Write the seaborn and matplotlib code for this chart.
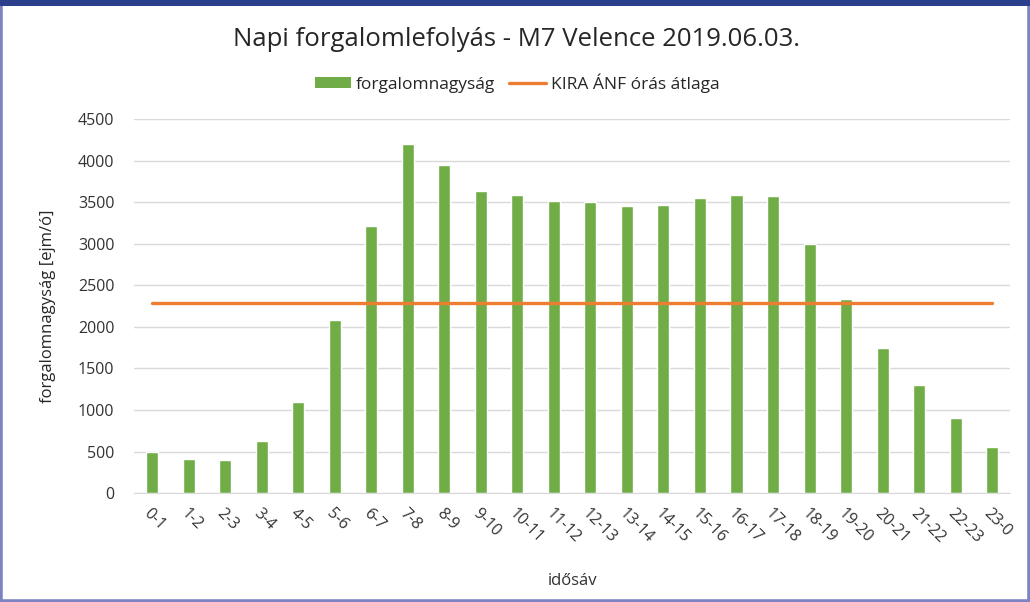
import matplotlib.pyplot as plt
import seaborn as sns
from matplotlib.lines import Line2D
from matplotlib.patches import Patch, Rectangle

# adatok
idosav = ["0-1", "1-2", "2-3", "3-4", "4-5", "5-6", "6-7", "7-8", "8-9", "9-10",
          "10-11", "11-12", "12-13", "13-14", "14-15", "15-16", "16-17", "17-18",
          "18-19", "19-20", "20-21", "21-22", "22-23", "23-0"]
forgalom = [490, 410, 400, 630, 1090, 2080, 3210, 4200, 3950, 3640,
            3590, 3510, 3500, 3460, 3470, 3550, 3590, 3580,
            3000, 2330, 1740, 1300, 900, 560]
kira_atlag = [2290] * len(idosav)
y_ticks = [0, 500, 1000, 1500, 2000, 2500, 3000, 3500, 4000, 4500]

GREEN = "#70ad47"
ORANGE = "#ed7d31"

sns.set_style("white")
plt.rcParams["font.family"] = ["Open Sans", "DejaVu Sans"]

fig = plt.figure(figsize=(10.30, 6.02), dpi=100)
ax = fig.add_axes([0.130, 0.181, 0.851, 0.621])

sns.barplot(x=idosav, y=forgalom, color=GREEN, width=0.33, saturation=1, ax=ax)
sns.lineplot(x=idosav, y=kira_atlag, color=ORANGE, linewidth=2.4, ax=ax)

ax.set_ylim(0, 4500)
ax.set_xlim(-0.5, len(idosav) - 0.5)
ax.set_yticks(y_ticks)
ax.set_yticklabels([str(v) for v in y_ticks], fontsize=11.5, color="#333333")
ax.yaxis.grid(True, color="#d9d9d9", linewidth=1)
ax.set_axisbelow(True)
for s in ["top", "right", "left"]:
    ax.spines[s].set_visible(False)
ax.spines["bottom"].set_color("#d9d9d9")
ax.tick_params(axis="both", length=0)
ax.tick_params(axis="y", pad=14)

ax.set_xticks(range(len(idosav)))
ax.set_xticklabels(idosav, rotation=-45, ha="left", va="top",
                   rotation_mode="anchor", fontsize=11.5, color="#333333")
ax.tick_params(axis="x", pad=9)

ax.set_xlabel("idősáv", fontsize=12, color="#333333", labelpad=19)
ax.set_ylabel("forgalomnagyság [ejm/ó]", fontsize=12, color="#262626", labelpad=16)

fig.text(0.501, 0.935, "Napi forgalomlefolyás - M7 Velence 2019.06.03.",
         ha="center", va="center", fontsize=18.5, color="#262626")

handles = [Patch(facecolor=GREEN, edgecolor="none", label="forgalomnagyság"),
           Line2D([0], [0], color=ORANGE, linewidth=2.4, label="KIRA ÁNF órás átlaga")]
fig.legend(handles=handles, loc="center", bbox_to_anchor=(0.502, 0.862), ncol=2,
           frameon=False, fontsize=12.5, handlelength=2.1, handleheight=0.55,
           handletextpad=0.3, columnspacing=0.8, labelcolor="#262626")

# keret
fig.patches.append(Rectangle((0, 0), 1, 1, transform=fig.transFigure, fill=False,
                             edgecolor="#7b83c0", linewidth=4))
fig.patches.append(Rectangle((0, 0.99), 1, 0.01, transform=fig.transFigure,
                             facecolor="#2b3f8c", edgecolor="none"))

fig.savefig("out.png", dpi=100)
